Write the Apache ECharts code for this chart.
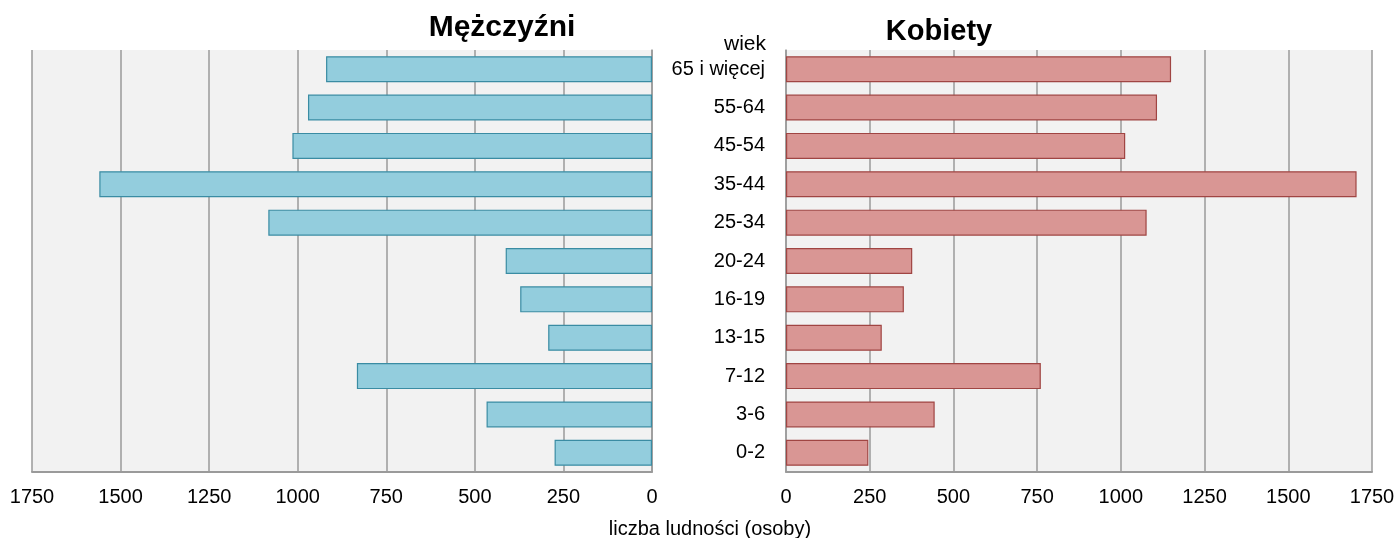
<!DOCTYPE html>
<html>
<head>
<meta charset="utf-8">
<script src="https://cdn.jsdelivr.net/npm/echarts@6/dist/echarts.min.js"></script>
<style>
  html, body { margin: 0; padding: 0; background: #fff; }
  #chart { width: 1400px; height: 538px; }
</style>
</head>
<body>
<div id="chart"></div>
<script>
  // grupy wieku, od dołu do góry
  var ageGroups = ['0-2', '3-6', '7-12', '13-15', '16-19', '20-24', '25-34', '35-44', '45-54', '55-64', '65 i więcej']
  var men = [275, 467, 833, 293, 372, 413, 1083, 1560, 1015, 971, 920]
  var women = [246, 444, 761, 286, 352, 377, 1077, 1704, 1013, 1108, 1150]
  var tickValues = [0, 250, 500, 750, 1000, 1250, 1500, 1750]

  var font = 'Liberation Sans, Arial, sans-serif'
  var chart = echarts.init(document.getElementById('chart'))

  var option = {
    animation: false,
    textStyle: { fontFamily: font },
    title: [
      { text: 'Mężczyźni', left: 497, top: 8, textAlign: 'center',
        textStyle: { fontSize: 30, fontWeight: 'bold', color: '#000', fontFamily: font } },
      { text: 'Kobiety', left: 934, top: 12, textAlign: 'center',
        textStyle: { fontSize: 29, fontWeight: 'bold', color: '#000', fontFamily: font } },
      { text: 'wiek', left: 740, top: 29, textAlign: 'center',
        textStyle: { fontSize: 21, fontWeight: 'normal', color: '#000', fontFamily: font } },
      { text: 'liczba ludności (osoby)', left: 705, top: 514, textAlign: 'center',
        textStyle: { fontSize: 20, fontWeight: 'normal', color: '#000', fontFamily: font } }
    ],
    grid: [
      { left: 32, right: 748, top: 50, bottom: 66, show: true, backgroundColor: '#F2F2F2', borderWidth: 0 },
      { left: 786, right: 28, top: 50, bottom: 66, show: true, backgroundColor: '#F2F2F2', borderWidth: 0 }
    ],
    xAxis: [
      {
        type: 'value', gridIndex: 0, inverse: true, min: 0, max: 1750, interval: 250,
        axisLine: { show: true, lineStyle: { color: '#9a9a9a', width: 2 } },
        axisTick: { show: false },
        splitLine: { show: true, lineStyle: { color: '#9a9a9a', width: 1.5 } },
        axisLabel: { color: '#000', fontSize: 20, margin: 15, fontFamily: font,
          formatter: function (v) { return tickValues.indexOf(v) >= 0 ? String(v) : '' } }
      },
      {
        type: 'value', gridIndex: 1, min: 0, max: 1750, interval: 250,
        axisLine: { show: true, lineStyle: { color: '#9a9a9a', width: 2 } },
        axisTick: { show: false },
        splitLine: { show: true, lineStyle: { color: '#9a9a9a', width: 1.5 } },
        axisLabel: { color: '#000', fontSize: 20, margin: 15, fontFamily: font,
          formatter: function (v) { return tickValues.indexOf(v) >= 0 ? String(v) : '' } }
      }
    ],
    yAxis: [
      {
        type: 'category', gridIndex: 0, data: ageGroups, position: 'right',
        axisLine: { show: true, lineStyle: { color: '#9a9a9a', width: 1.5 } },
        axisTick: { show: false },
        axisLabel: { show: false }
      },
      {
        type: 'category', gridIndex: 1, data: ageGroups, position: 'left',
        axisLine: { show: true, lineStyle: { color: '#9a9a9a', width: 1.5 } },
        axisTick: { show: false },
        axisLabel: { color: '#000', fontSize: 20, margin: 21, fontFamily: font }
      }
    ],
    series: [
      {
        name: 'Mężczyźni', type: 'bar', xAxisIndex: 0, yAxisIndex: 0,
        data: men, barWidth: 26,
        itemStyle: { color: '#93CDDD', borderColor: '#3A8CA3', borderWidth: 1.2 }
      },
      {
        name: 'Kobiety', type: 'bar', xAxisIndex: 1, yAxisIndex: 1,
        data: women, barWidth: 26,
        itemStyle: { color: '#D99694', borderColor: '#A04543', borderWidth: 1.2 }
      }
    ]
  }

  chart.setOption(option)
</script>
</body>
</html>
